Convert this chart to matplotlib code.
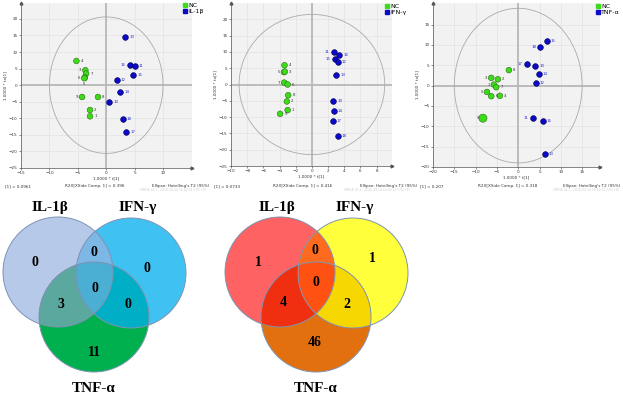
import numpy as np
import matplotlib
matplotlib.use("Agg")
import matplotlib.pyplot as plt
from matplotlib.patches import Circle, Ellipse, Polygon
from matplotlib.lines import Line2D

# ---- score plot data ----
nc1_lab = ['4', '3', '7', '6', '5', '9', '8', '2', '1']
nc1_x = [-5.25, -3.67, -3.55, -3.78, -3.85, -4.25, -1.45, -2.85, -2.85]
nc1_y = [7.3, 4.5, 3.5, 2.3, 2.1, -3.57, -3.57, -7.5, -9.4]
il1b_lab = ['13', '16', '11', '15', '12', '14', '10', '18', '17']
il1b_x = [3.34, 4.1, 5.03, 4.74, 1.82, 2.41, 0.48, 2.87, 3.57]
il1b_y = [14.4, 6.0, 5.7, 3.1, 1.47, -1.95, -5.07, -10.3, -14.1]

nc2_lab = ['4', '5', '3', '7', '6', '8', '2', '1', '9']
nc2_x = [-3.39, -3.45, -3.35, -3.43, -3.0, -2.93, -3.1, -3.0, -3.93]
nc2_y = [5.9, 3.8, 3.95, 0.58, 0.0, -3.3, -5.2, -7.85, -9.0]
ifng_lab = ['11', '16', '15', '12', '13', '10', '14', '17', '18']
ifng_x = [2.73, 3.35, 2.81, 3.18, 3.0, 2.6, 2.69, 2.56, 3.18]
ifng_y = [10.1, 9.2, 7.9, 6.85, 2.85, -4.97, -8.06, -11.1, -15.9]

nc3_lab = ['8', '3', '2', '1', '7', '5', '6', '4', '9']
nc3_x = [-2.19, -6.33, -4.77, -5.7, -5.16, -7.34, -6.33, -4.3, -8.28]
nc3_y = [3.8, 1.9, 1.56, 0.25, -0.4, -1.56, -2.6, -2.5, -8.0]
tnfa_lab = ['15', '18', '17', '10', '14', '12', '11', '16', '13']
tnfa_x = [6.72, 5.23, 2.1, 3.98, 4.77, 4.14, 3.44, 5.78, 6.25]
tnfa_y = [10.9, 9.5, 5.27, 4.78, 2.97, 0.74, -8.0, -8.8, -16.9]

r2x_1 = ['0.0961', '0.0733', '0.207']
r2x_side = ['0.396', '0.416', '0.318']
group_names = ['IL-1β', 'IFN-γ', 'TNF-α']

# ---- venn data ----
regions = ['A', 'B', 'C', 'AB', 'AC', 'BC', 'ABC']
counts_left = [0, 0, 11, 0, 3, 0, 0]
counts_right = [1, 1, 46, 0, 4, 2, 0]

# label sides (layout only)
nc1_side = ['r', 'l', 'r', 'l', 'b', 'l', 'r', 'r', 'r']
il1b_side = ['r', 'l', 'r', 'r', 'r', 'r', 'r', 'r', 'r']
nc2_side = ['r', 'l', 'r', 'l', 'r', 'r', 'r', 'r', 'r']
ifng_side = ['l', 'r', 'l', 'r', 'r', 'r', 'r', 'r', 'r']
nc3_side = ['r', 'l', 'r', 'l', 'r', 'l', 'r', 'r', 'l']
tnfa_side = ['r', 'l', 'l', 'r', 'r', 'r', 'l', 'r', 'r']

W, H = 623, 399
fig = plt.figure(figsize=(W / 100, H / 100), dpi=100)

GREEN = '#3ddc1a'
BLUE = '#0a0ac8'


def px_rect(l, r, t, b):
    return [l / W, 1 - b / H, (r - l) / W, (b - t) / H]


def put_labels(ax, xs, ys, labs, sides, color):
    for x, y, lab, s in zip(xs, ys, labs, sides):
        if s == 'l':
            off, ha, va = (-3, 0), 'right', 'center'
        elif s == 'r':
            off, ha, va = (3, 0), 'left', 'center'
        else:
            off, ha, va = (0, -3), 'center', 'top'
        ax.annotate(lab, (x, y), xytext=off, textcoords='offset points',
                    ha=ha, va=va, fontsize=2.8, color=color)


def score_panel(rect, xlim, ylim, xt, yt, ell, nc, tr, name, idx, leg_px, foot_px):
    ax = fig.add_axes(rect, zorder=3)
    ax.set_facecolor('#f2f2f2')
    ax.set_xlim(xlim)
    ax.set_ylim(ylim)
    ax.set_xticks(xt)
    ax.set_yticks(yt)
    ax.grid(True, color='#e3e3e3', lw=0.5)
    ax.set_axisbelow(True)
    ax.axhline(0, color='#b8b8b8', lw=1.3, zorder=1)
    ax.axvline(0, color='#b8b8b8', lw=1.3, zorder=1)
    ax.add_patch(Ellipse((0, 0), 2 * ell[0], 2 * ell[1], fill=False,
                         ec='#aaaaaa', lw=0.6, zorder=2))
    sizes = [17] * len(nc[0])
    if idx == 2:
        sizes[-1] = 34
    ax.scatter(nc[0], nc[1], s=sizes, c=GREEN, edgecolors='#2b6e12', lw=0.4, zorder=3)
    ax.scatter(tr[0], tr[1], s=17, c=BLUE, edgecolors='#000050', lw=0.4, zorder=3)
    put_labels(ax, nc[0], nc[1], nc[2], nc[3], '#333333')
    put_labels(ax, tr[0], tr[1], tr[2], tr[3], '#2a2ad0')
    for s in ['top', 'right']:
        ax.spines[s].set_visible(False)
    for s in ['left', 'bottom']:
        ax.spines[s].set_color('#555555')
        ax.spines[s].set_linewidth(0.5)
    ax.tick_params(labelsize=3, length=1.5, width=0.4, pad=1, colors='#333333')
    ax.plot(1, 0, '>', color='#555555', ms=2, transform=ax.transAxes, clip_on=False)
    ax.plot(0, 1, '^', color='#555555', ms=2, transform=ax.transAxes, clip_on=False)
    ax.set_xlabel('1.0000 * t[1]', fontsize=3, labelpad=1, color='#333333')
    ax.set_ylabel('1.0000 * to[1]', fontsize=3, labelpad=1, color='#333333')

    handles = [Line2D([], [], marker='s', ls='', color=GREEN, ms=3.5),
               Line2D([], [], marker='s', ls='', color=BLUE, ms=3.5)]
    fig.legend(handles, ['NC', name], loc='upper left',
               bbox_to_anchor=(leg_px[0] / W, 1 - leg_px[1] / H),
               frameon=False, fontsize=4.5, handlelength=0.6, handletextpad=0.2,
               borderpad=0, labelspacing=0.1, borderaxespad=0)

    fy = 1 - foot_px[3] / H
    fig.text(foot_px[0] / W, fy, '[1] = ' + r2x_1[idx], fontsize=3, color='#333333', va='center')
    fig.text(foot_px[1] / W, fy, 'R2X[XSide Comp. 1] = ' + r2x_side[idx], fontsize=3,
             color='#333333', va='center')
    fig.text(foot_px[2] / W, fy, "Ellipse: Hotelling's T2 (95%)", fontsize=3,
             color='#333333', va='center')
    fig.text(foot_px[4] / W, fy - 0.011, 'SIMCA 14.1 - 2016-09-14 16:40:12 (UTC+8)',
             fontsize=2.2, color='#cccccc', va='center', ha='right')
    return ax


score_panel(px_rect(21, 192, 3, 168), (-15, 15.1), (-25, 24.8),
            range(-15, 11, 5), range(-25, 21, 5), (10, 20.6),
            (nc1_x, nc1_y, nc1_lab, nc1_side), (il1b_x, il1b_y, il1b_lab, il1b_side),
            group_names[0], 0, (183, 3), (5, 65, 152, 186, 206))
score_panel(px_rect(231, 392, 3, 166), (-10, 9.9), (-25, 25),
            range(-10, 9, 2), range(-25, 21, 5), (9, 21.5),
            (nc2_x, nc2_y, nc2_lab, nc2_side), (ifng_x, ifng_y, ifng_lab, ifng_side),
            group_names[1], 1, (385, 4), (214, 273, 360, 186, 410))
score_panel(px_rect(433, 600, 3, 167), (-20, 19.2), (-20, 20.3),
            range(-20, 16, 5), range(-20, 16, 5), (15, 19),
            (nc3_x, nc3_y, nc3_lab, nc3_side), (tnfa_x, tnfa_y, tnfa_lab, tnfa_side),
            group_names[2], 2, (596, 4), (420, 478, 563, 186, 619))

# ---- venn diagrams, drawn in pixel coordinates ----
axv = fig.add_axes([0, 0, 1, 1], zorder=1)
axv.set_xlim(0, W)
axv.set_ylim(H, 0)
axv.axis('off')


def inter_poly(circles):
    t = np.linspace(0, 2 * np.pi, 720, endpoint=False)
    pts = np.vstack([np.column_stack([cx + r * np.cos(t), cy + r * np.sin(t)])
                     for (cx, cy), r in circles])
    keep = np.ones(len(pts), bool)
    for (cx, cy), r in circles:
        keep &= np.hypot(pts[:, 0] - cx, pts[:, 1] - cy) <= r + 1e-6
    p = pts[keep]
    c = p.mean(axis=0)
    order = np.argsort(np.arctan2(p[:, 1] - c[1], p[:, 0] - c[0]))
    return p[order]


def venn(dx, counts, colors, num_pos, title_pos):
    R = 55
    cen = {'A': (58 + dx, 272), 'B': (131 + dx, 273), 'C': (94 + dx, 317)}
    for k in ['A', 'B', 'C']:
        axv.add_patch(Circle(cen[k], R, fc=colors[k], ec='none', zorder=1))
    for k in ['AB', 'AC', 'BC']:
        poly = inter_poly([(cen[k[0]], R), (cen[k[1]], R)])
        axv.add_patch(Polygon(poly, fc=colors[k], ec='none', zorder=2))
    poly = inter_poly([(cen['A'], R), (cen['B'], R), (cen['C'], R)])
    axv.add_patch(Polygon(poly, fc=colors['ABC'], ec='none', zorder=3))
    for k in ['A', 'B', 'C']:
        axv.add_patch(Circle(cen[k], R, fill=False, ec='#7f93b3', lw=0.7, zorder=4))
    for reg, n in zip(regions, counts):
        x, y = num_pos[reg]
        axv.text(x + dx, y, str(n), ha='center', va='center', fontsize=10,
                 fontweight='bold', family=['Liberation Serif', 'DejaVu Serif'], zorder=5)
    for name, (x, y) in zip(group_names, title_pos):
        axv.text(x + dx, y, name, ha='center', va='center', fontsize=11,
                 fontweight='bold', family=['Liberation Serif', 'DejaVu Serif'], zorder=5)


colors_left = {'A': '#b6c9e8', 'B': '#3fc2f2', 'C': '#00b04e', 'AB': '#7db7e5',
               'AC': '#5ba89e', 'BC': '#00afc6', 'ABC': '#4bafd3'}
colors_right = {'A': '#ff6262', 'B': '#ffff3c', 'C': '#e2700f', 'AB': '#ff6b1e',
                'AC': '#f02e10', 'BC': '#f7d700', 'ABC': '#ff5212'}

pos_left = {'A': (35, 262), 'AB': (94, 253), 'B': (147, 268), 'ABC': (95, 288),
            'AC': (61, 305), 'BC': (128, 305), 'C': (94, 352)}
pos_right = {'A': (36, 262), 'AB': (93, 250), 'B': (150, 258), 'ABC': (94, 283),
             'AC': (61, 303), 'BC': (125, 305), 'C': (93, 343)}
titles = [(50, 208), (138, 208), (94, 389)]

venn(0, counts_left, colors_left, pos_left, titles)
venn(222, counts_right, colors_right, pos_right, [(55, 208), (133, 207), (94, 389)])

fig.savefig('out.png', dpi=100)
